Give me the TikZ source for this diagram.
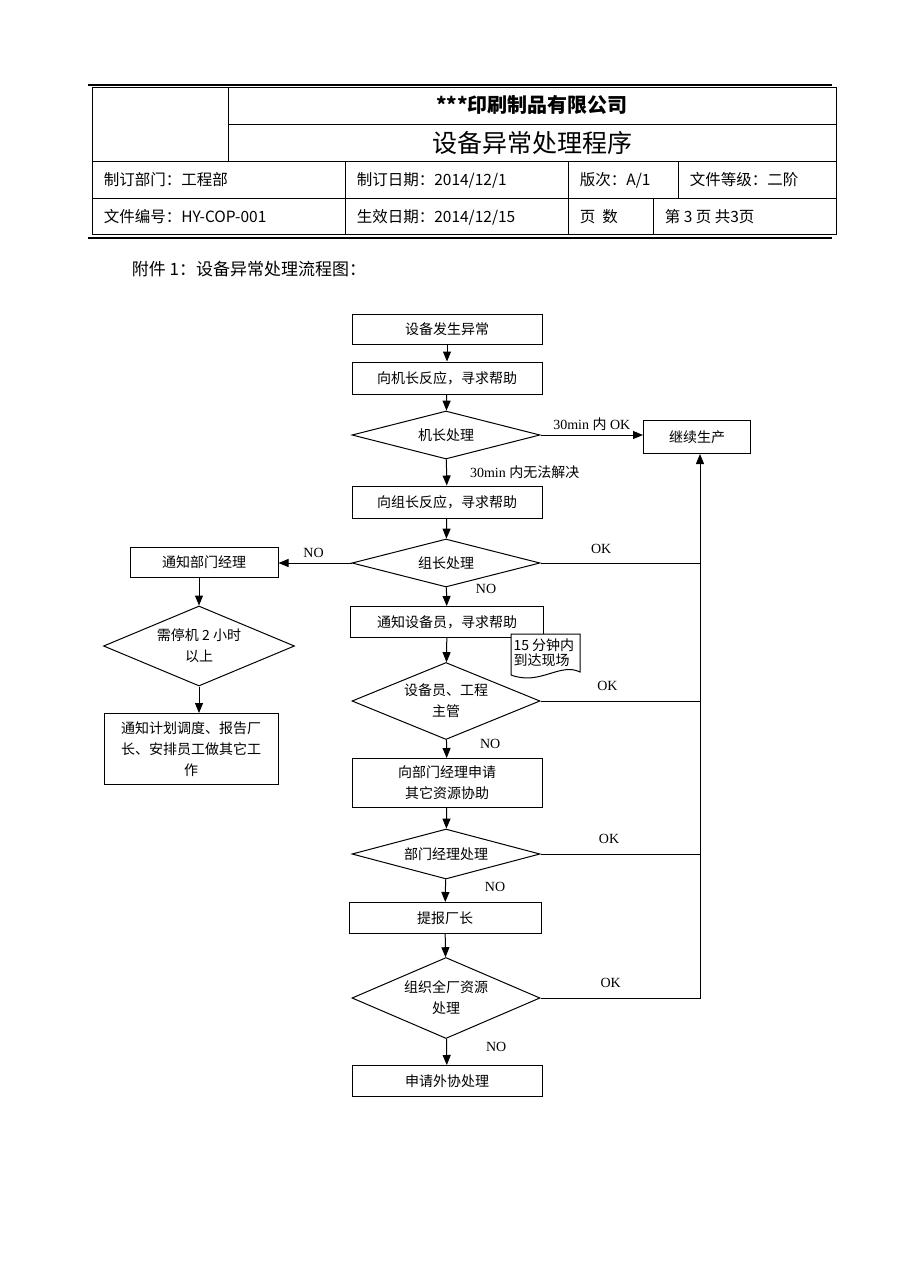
\documentclass[tikz,border=0pt]{standalone}
\usepackage{fontspec}
\setmainfont{Liberation Serif}
\newfontfamily\cjk{Noto Sans CJK SC}
\usetikzlibrary{shapes.geometric,arrows.meta}

\begin{document}
\begin{tikzpicture}[x=1pt,y=-1pt,line width=1pt,
		box/.style={draw, minimum width=190pt, minimum height=31pt, inner sep=2pt,
			align=center, font=\cjk\fontsize{14}{21}\selectfont},
		dec/.style={draw, diamond, aspect=3.9, minimum width=188pt, minimum height=48pt,
			inner sep=0pt, align=center, font=\cjk\fontsize{14}{21}\selectfont},
		arr/.style={-{Triangle[length=10pt,width=8pt]}},
		lbl/.style={font=\fontsize{14}{16}\selectfont, inner sep=1pt},
		cell/.style={anchor=west, font=\cjk\fontsize{15.5}{18}\selectfont}]
		\useasboundingbox[fill=white] (0,0) rectangle (920,1288);

		% header table
		\draw[line width=1.8pt] (88,85) -- (832,85);
		\draw[line width=0.6pt] (92,87) rectangle (836,234);
		\draw[line width=0.6pt] (228,87) -- (228,161) (228,124) -- (836,124)
		(92,161) -- (836,161) (92,198) -- (836,198)
		(345,161) -- (345,234) (568,161) -- (568,234)
		(678,161) -- (678,198) (653,198) -- (653,234);
		\draw[line width=1.8pt] (88,238) -- (832,238);
		\node[font=\cjk\bfseries\fontsize{20}{24}\selectfont] (company) at (532,105) {***印刷制品有限公司};
		\node[font=\cjk\fontsize{25}{28}\selectfont] (title) at (532,143) {设备异常处理程序};
		\node[cell] (dept0) at (100,180) {制订部门：工程部};
		\node[cell] (date0) at (353,180) {制订日期：2014/12/1};
		\node[cell] (ver) at (576,180) {版次：A/1};
		\node[cell] (grade) at (686,180) {文件等级：二阶};
		\node[cell] (docno) at (100,217) {文件编号：HY-COP-001};
		\node[cell] (date1) at (353,217) {生效日期：2014/12/15};
		\node[cell] (pages) at (576,217) {页\ \ 数};
		\node[cell] (pageno) at (661,217) {第 3 页 共3页};
		\node[anchor=west, font=\cjk\fontsize{17}{20}\selectfont] (attach) at (128,269) {附件 1：设备异常处理流程图：};

		% flow chart
		\node[box, minimum height=30pt] (start) at (447,329) {设备发生异常};
		\node[box, minimum height=32pt] (ask1) at (447,378) {向机长反应，寻求帮助};
		\node[dec] (jz) at (446,435) {机长处理};
		\node[box, minimum width=107pt, minimum height=33pt] (cont) at (697,437) {继续生产};
		\node[box, minimum height=32pt] (ask2) at (447,502) {向组长反应，寻求帮助};
		\node[dec] (zz) at (446,563) {组长处理};
		\node[box, minimum width=148pt, minimum height=30pt] (mgr) at (204,562) {通知部门经理};
		\node[dec, aspect=2.4, minimum width=191pt, minimum height=80pt] (stop) at (199,646) {需停机 2 小时\\以上};
		\node[box, minimum width=174pt, minimum height=71pt] (plan) at (191,749) {通知计划调度、报告厂\\长、安排员工做其它工\\作};
		\node[box, minimum width=193pt, minimum height=31pt] (sb) at (447,622) {通知设备员，寻求帮助};
		\draw[fill=white] (511,634) -- (580,634) -- (580,672)
		.. controls (560,662) and (540,686) .. (511,675) -- cycle;
		\node[anchor=west, align=left, inner sep=0pt, font=\cjk\fontsize{14}{15}\selectfont] (note) at (513,653) {15 分钟内\\到达现场};
		\node[dec, aspect=2.44, minimum height=77pt] (eng) at (446,701) {设备员、工程\\主管};
		\node[box, minimum height=49pt] (apply) at (447,783) {向部门经理申请\\其它资源协助};
		\node[dec, aspect=3.8, minimum height=50pt] (deptproc) at (446,854) {部门经理处理};
		\node[box, minimum width=192pt] (plant) at (445,918) {提报厂长};
		\node[dec, aspect=2.3, minimum height=81pt] (res) at (446,998) {组织全厂资源\\处理};
		\node[box] (outs) at (447,1081) {申请外协处理};
		\coordinate (trunk) at (700,998);

		\draw[arr] (start) -- (ask1);
		\draw[arr] (ask1) -- (jz);
		\draw[arr] (jz.east) -- node[lbl, above=3pt] {30min {\cjk 内} OK} (jz.east -| cont.west);
		\draw[arr] (jz) -- node[lbl, anchor=west, xshift=22pt] {30min {\cjk 内无法解决}} (ask2);
		\draw[arr] (ask2) -- (zz);
		\draw[arr] (zz.west) -- node[lbl, above=4pt, pos=0.52] {NO} (zz.west -| mgr.east);
		\draw (zz.east) -- node[lbl, above=8pt, pos=0.38] {OK} (zz.east -| trunk);
		\draw[arr] (zz) -- node[lbl, anchor=west, pos=0.1, xshift=28pt] {NO} (sb);
		\draw[arr] (sb) -- (eng);
		\draw (eng.east) -- node[lbl, above=9pt, pos=0.42] {OK} (eng.east -| trunk);
		\draw[arr] (eng) -- node[lbl, anchor=west, pos=0.2, xshift=32pt] {NO} (apply);
		\draw[arr] (apply) -- (deptproc);
		\draw (deptproc.east) -- node[lbl, above=9pt, pos=0.43] {OK} (deptproc.east -| trunk);
		\draw[arr] (deptproc) -- node[lbl, anchor=west, pos=0.35, xshift=38pt] {NO} (plant);
		\draw[arr] (plant) -- (res);
		\draw[arr] (res.east) -- node[lbl, above=9pt, pos=0.44] {OK} (trunk) -- (trunk |- cont.south);
		\draw[arr] (res) -- node[lbl, anchor=west, pos=0.3, xshift=38pt] {NO} (outs);
		\draw[arr] (stop.north |- mgr.south) -- (stop);
		\draw[arr] (stop) -- (stop.south |- plan.north);
	\end{tikzpicture}
\end{document}
